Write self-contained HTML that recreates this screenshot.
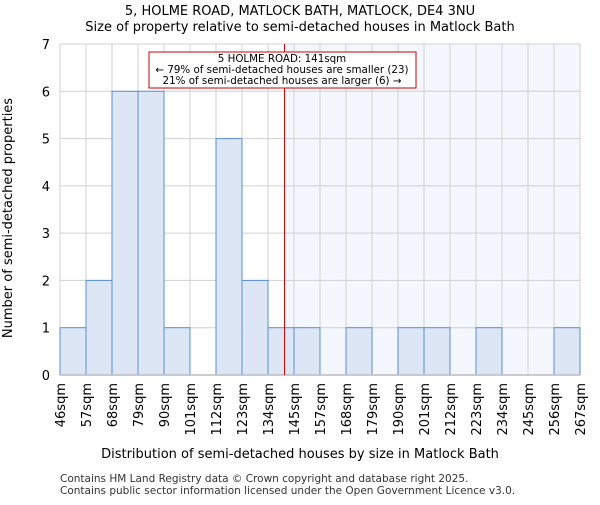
<!DOCTYPE html>
<html><head><meta charset="utf-8"><style>
body{margin:0;background:#fff}
svg{font-family:"DejaVu Sans","Liberation Sans",sans-serif}
</style></head><body>
<svg width="600" height="500" id="c">
<text x="300" y="15" text-anchor="middle" font-size="13">5, HOLME ROAD, MATLOCK BATH, MATLOCK, DE4 3NU</text>
<text x="300" y="31" text-anchor="middle" font-size="13">Size of property relative to semi-detached houses in Matlock Bath</text>
<g id="plot"></g>
<text x="300" y="458" text-anchor="middle" font-size="13">Distribution of semi-detached houses by size in Matlock Bath</text>
<text transform="translate(12,218) rotate(-90)" text-anchor="middle" font-size="13">Number of semi-detached properties</text>
<text x="60" y="482" font-size="10.5" fill="#333">Contains HM Land Registry data © Crown copyright and database right 2025.</text>
<text x="60" y="494" font-size="10.5" fill="#333">Contains public sector information licensed under the Open Government Licence v3.0.</text>
</svg>
<script>
const binLabels=["46sqm","57sqm","68sqm","79sqm","90sqm","101sqm","112sqm","123sqm","134sqm","145sqm","157sqm","168sqm","179sqm","190sqm","201sqm","212sqm","223sqm","234sqm","245sqm","256sqm","267sqm"];
const binEdges=[46,57,68,79,90,101,112,123,134,145,157,168,179,190,201,212,223,234,245,256,267];
const counts=[1,2,6,6,1,0,5,2,1,1,0,1,0,1,1,0,1,0,0,1];
const yTicks=[0,1,2,3,4,5,6,7];
const propertySize=141;
const annotation=["5 HOLME ROAD: 141sqm","← 79% of semi-detached houses are smaller (23)","21% of semi-detached houses are larger (6) →"];

const NS="http://www.w3.org/2000/svg";
const X0=60,X1=580,Y0=375,Y1=44,YMAX=7;
const g=document.getElementById('plot');
const nb=counts.length;
function xi(i){return X0+(X1-X0)*i/nb;}
function xv(v){let i=0;while(i<nb-1&&v>binEdges[i+1])i++;return xi(i)+(v-binEdges[i])/(binEdges[i+1]-binEdges[i])*(xi(i+1)-xi(i));}
function y(v){return Y0-(Y0-Y1)*v/YMAX;}
function el(t,a,p){const e=document.createElementNS(NS,t);for(const k in a)e.setAttribute(k,a[k]);(p||g).appendChild(e);return e;}
const px=xv(propertySize);
const sh=el('rect',{x:px,y:Y1,width:X1-px,height:Y0-Y1,fill:'#f4f7fd'});


for(let i=0;i<=nb;i++){const l=el('line',{x1:xi(i),x2:xi(i),y1:Y1,y2:Y0,stroke:'#d0d0d0'});

}
yTicks.forEach(t=>{const l=el('line',{x1:X0,x2:X1,y1:y(t),y2:y(t),stroke:'#d0d0d0'});


const tx=el('text',{x:X0-10,y:y(t)+5,'text-anchor':'end','font-size':13});tx.textContent=t;

});
counts.forEach((c,i)=>{if(c<=0)return;const r=el('rect',{x:xi(i),y:y(c),width:xi(i+1)-xi(i),height:Y0-y(c),fill:'#dce6f4',stroke:'#5a8fd8','stroke-width':1});

});
const ax=el('line',{x1:X0,x2:X1,y1:Y0,y2:Y0,stroke:'#bbb','stroke-width':1.5});


binLabels.forEach((lb,i)=>{const t=el('text',{transform:`translate(${xi(i)+5},383) rotate(-90)`,'text-anchor':'end','font-size':13});t.textContent=lb;

});
const rl=el('line',{x1:px,x2:px,y1:Y1,y2:Y0,stroke:'#cc0000','stroke-width':1});


const bx=el('rect',{x:149,y:52,width:267,height:36,fill:'#fff',stroke:'#cc0000'});


annotation.forEach((s,i)=>{const t=el('text',{x:282,y:62+i*11,'text-anchor':'middle','font-size':10.3});t.textContent=s;

});
</script>
</body></html>
